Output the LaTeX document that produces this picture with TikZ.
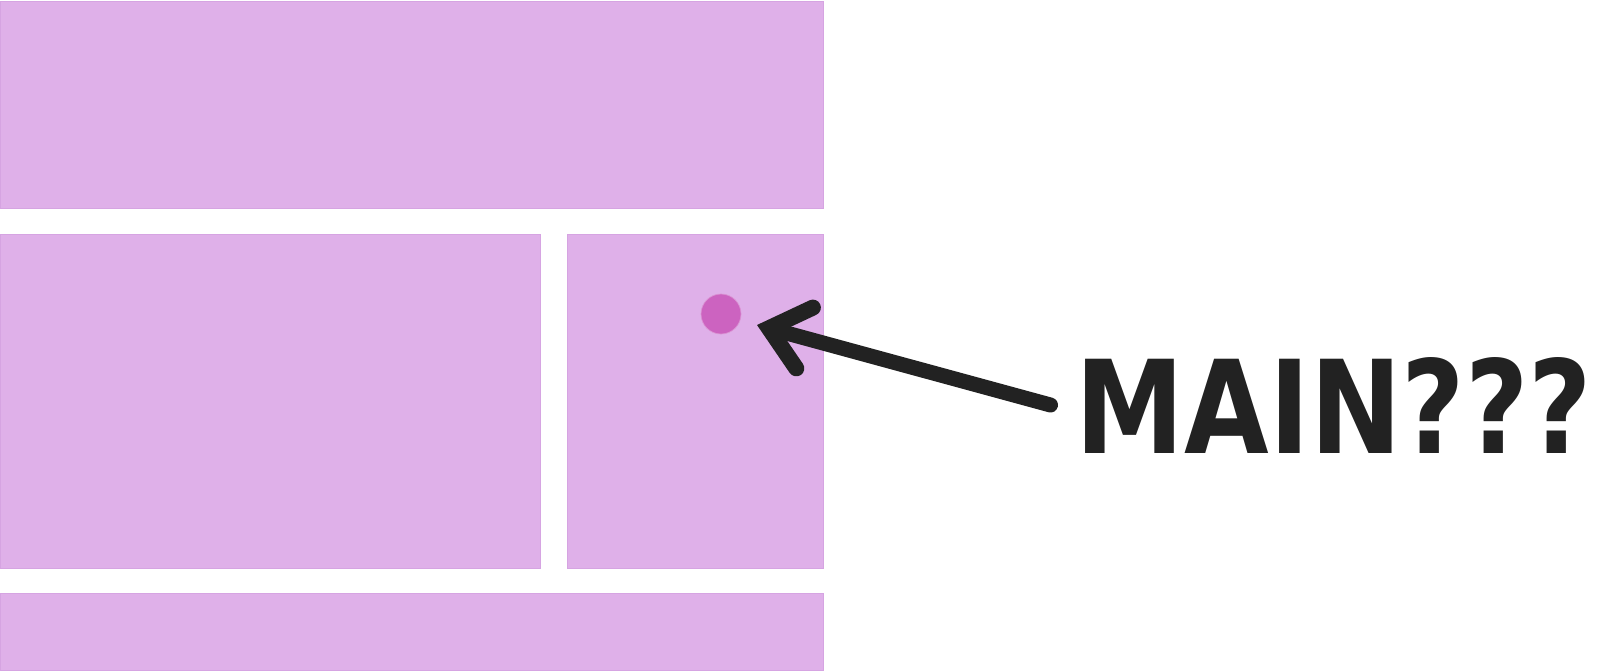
\documentclass[tikz,border=0pt]{standalone}
\usepackage{fontspec}
\setsansfont{DejaVu Sans}
\usetikzlibrary{positioning, arrows.meta}

\definecolor{panelfill}{HTML}{DFB0E9}
\definecolor{paneldraw}{HTML}{D6A4E2}
\definecolor{dotfill}{HTML}{CC63C0}
\definecolor{inkgray}{HTML}{222222}

\tikzstyle{panel} = [
draw=paneldraw,
fill=panelfill,
line width=0.4pt,
rectangle,
inner sep=0pt,
outer sep=0pt]
\tikzstyle{marker} = [
circle,
fill=dotfill,
draw=dotfill!70!white,
line width=0.4pt,
minimum size=0.8cm,
inner sep=0pt]
\tikzstyle{arrow} = [
draw=inkgray,
line width=0.3cm,
line cap=round,
-{Straight Barb[length=0.74cm, width=1.26cm, line width=0.32cm, line cap=round, line join=miter]}]

\begin{document}
\begin{tikzpicture}

\useasboundingbox (0,0) rectangle (32.18,-13.42);

\node[panel, minimum width=16.46cm, minimum height=4.14cm, anchor=north west] (header) at (0,-0.02) {};
\node[panel, minimum width=10.8cm, minimum height=6.68cm, below right=0.52cm and 0cm of header.south west] (main) {};
\node[panel, minimum width=5.12cm, minimum height=6.68cm, right=0.54cm of main] (sidebar) {};
\node[panel, minimum width=16.46cm, minimum height=1.54cm, below right=0.5cm and 0cm of main.south west] (footer) {};

\node[marker] (dot) at (14.42,-6.28) {};
\coordinate (tip) at (15.14,-6.5);

\node[text=inkgray, inner xsep=0.5cm, inner ysep=0pt] (question) at (26.68,-8.10)
    {\resizebox{10.32cm}{1.92cm}{\sffamily\bfseries MAIN???}};

\draw[arrow] (question.west) -- (tip);

\end{tikzpicture}
\end{document}
